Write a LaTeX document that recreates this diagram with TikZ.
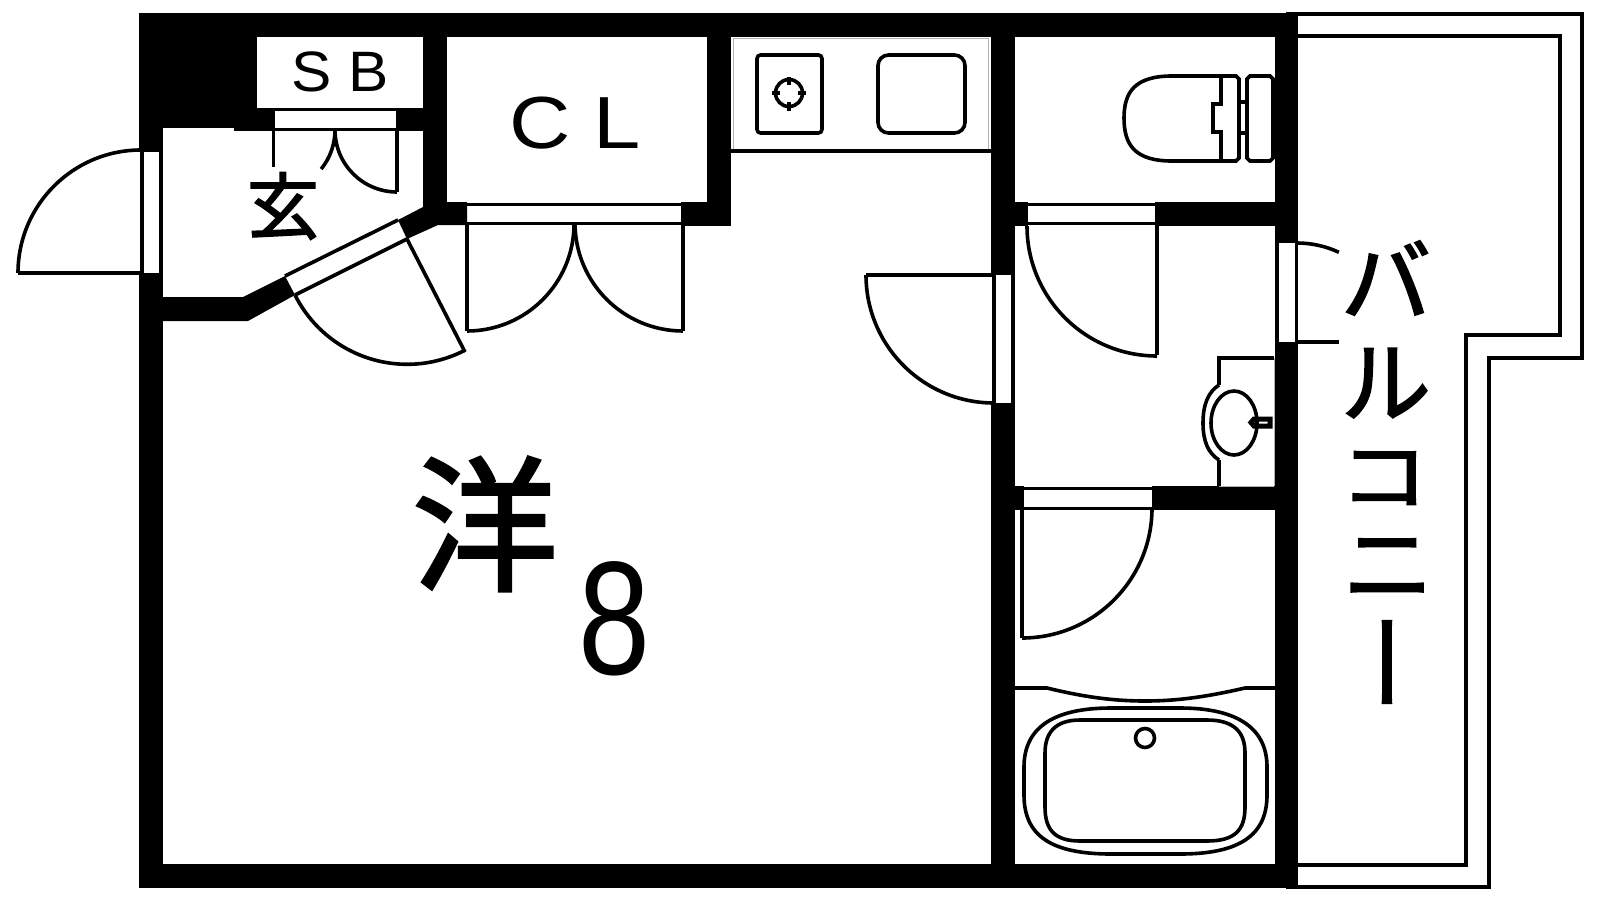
\documentclass[tikz,border=0pt]{standalone}
\usepackage{fontspec}
\setmainfont{Liberation Sans}
\newfontfamily\cjk[FakeBold=2]{Noto Sans CJK JP}
\usepackage{tikz}
\tikzset{
  wall/.style={fill=black},
  plan/.style={line width=0.036cm},
  hair/.style={line width=0.01cm,black!30},
  latin/.style={inner sep=0pt,font=\fontsize{#1}{#1}\selectfont},
  kana/.style={inner sep=0pt,font=\cjk\fontsize{#1}{#1}\selectfont}
}

\begin{document}
\begin{tikzpicture}[x=0.01cm,y=-0.01cm,plan]
%%Location
\useasboundingbox (0,0) rectangle (1600,900);
%%Outer walls
\fill[wall] (139,13) rectangle (1298,37);
\fill[wall] (139,864) rectangle (1298,888);
\fill[wall] (139,13) rectangle (163,152);
\fill[wall] (139,273) rectangle (163,888);
\fill[wall] (1275,13) rectangle (1298,243);
\fill[wall] (1275,342) rectangle (1298,888);
%%Inner walls
\fill[wall] (139,13) rectangle (257,128);
\fill[wall] (234,108) rectangle (275,131);
\fill[wall] (396,108) rectangle (423,131);
\fill[wall] (257,108) rectangle (423,111);
\fill[wall] (423,37) rectangle (447,207);
\fill[wall] (423,207) -- (398,220) -- (407,239) -- (438,225) -- (467,225) -- (467,202) -- (447,202) -- (423,190) -- cycle;
\fill[wall] (163,297) -- (243,297) -- (285,276) -- (295,295) -- (248,321) -- (163,321) -- cycle;
\fill[wall] (707,37) rectangle (731,226);
\fill[wall] (681,202) rectangle (731,226);
\fill[wall] (991,37) rectangle (1015,275);
\fill[wall] (991,403) rectangle (1015,888);
\fill[wall] (991,202) rectangle (1028,226);
\fill[wall] (1155,202) rectangle (1298,226);
\fill[wall] (991,486) rectangle (1024,510);
\fill[wall] (1152,486) rectangle (1298,510);

%%Entrance door
\draw (142,152) -- (142,273);
\draw (161,152) -- (161,273);
\draw (18,273) -- (142,273);
\draw (18,273) arc [start angle=180,end angle=270,radius=123];
%%Diagonal door
\draw (285,276) -- (398,220);
\draw (295,295) -- (407,239);
\draw (407,239) -- (465,352);
\draw (295,295) arc [start angle=153.4,end angle=62.8,radius=125.5];
%%SB doors
\draw (273,129.5) -- (397,129.5);
\draw (273.5,130) -- (273.5,167);
\draw (397,130) -- (397,192);
\draw (335,130) arc [start angle=180,end angle=90,radius=62];
\draw (335,130) arc [start angle=0,end angle=39,radius=62];
%%CL doors
\draw (467,204.5) -- (683,204.5);
\draw (467,223.5) -- (683,223.5);
\draw (467,225) -- (467,331);
\draw (683,225) -- (683,331);
\draw (467,331) arc [start angle=90,end angle=0,radius=107];
\draw (683,331) arc [start angle=90,end angle=180,radius=108];
%%Room door
\draw (994,275) -- (994,403);
\draw (1013,275) -- (1013,403);
\draw (866,275) -- (994,275);
\draw (866,275) arc [start angle=180,end angle=90,radius=128];
%%Toilet door
\draw (1028,204.5) -- (1157,204.5);
\draw (1028,223.5) -- (1157,223.5);
\draw (1157,225) -- (1157,355);
\draw (1027,226) arc [start angle=180,end angle=90,radius=130];
%%Bath door
\draw (1024,488.5) -- (1152,488.5);
\draw (1024,508.5) -- (1152,508.5);
\draw (1022,510) -- (1022,638);
\draw (1022,638) arc [start angle=90,end angle=0,radius=130];
%%Balcony door
\draw (1277,243) -- (1277,342);
\draw (1296.5,243) -- (1296.5,342);
\draw (1297,342) -- (1339,342);
\draw (1297,243) arc [start angle=-90,end angle=-65,radius=99];

%%Kitchen
\draw[hair] (733,38) rectangle (988,150);
\draw (731,151) -- (991,151);
\draw[rounded corners=1pt] (757,55) rectangle (822,133);
\draw (789,93) circle [radius=13.5];
\draw (772,93) -- (780,93);
\draw (798,93) -- (806,93);
\draw (789,77) -- (789,85);
\draw (789,102) -- (789,111);
\draw[rounded corners=3pt] (878,55) rectangle (965,133);

%%Toilet
\draw (1221,76) -- (1172,76) .. controls (1135,76) and (1124,92) .. (1124,118) .. controls (1124,145) and (1135,161) .. (1172,161) -- (1221,161);
\draw (1221,76) -- (1221,104) -- (1213,104) -- (1213,132) -- (1221,132) -- (1221,161);
\draw (1221,76) -- (1236,76) -- (1239,79) -- (1239,158) -- (1236,161) -- (1221,161);
\draw (1250,76) -- (1270,76) -- (1273,79) -- (1273,158) -- (1270,161) -- (1250,161) -- (1247,158) -- (1247,79) -- cycle;
\draw (1239,102) -- (1247,102);
\draw (1239,133) -- (1247,133);

%%Wash basin
\draw (1219,385) -- (1219,358) -- (1274,358);
\draw (1219,460) -- (1219,486);
\draw[hair] (1274,358) -- (1274,486);
\draw[hair] (1219,486) -- (1274,486);
\draw (1219,385) .. controls (1208,392) and (1203,405) .. (1203,423) .. controls (1203,441) and (1208,453) .. (1219,460);
\draw (1234,423) ellipse [x radius=23,y radius=32];
\draw[line width=0.05cm] (1270,419) -- (1254,419) -- (1251,422.5) -- (1254,426) -- (1270,426) -- cycle;

%%Bath
\draw (1015,688) -- (1047,688) .. controls (1080,696) and (1110,701) .. (1145,701) .. controls (1180,701) and (1210,696) .. (1245,688) -- (1275,688);
\draw (1111,708) -- (1180,708) .. controls (1240,708) and (1267,730) .. (1267,767) -- (1267,795) .. controls (1267,835) and (1240,854) .. (1180,854) -- (1111,854) .. controls (1050,854) and (1024,835) .. (1024,795) -- (1024,767) .. controls (1024,730) and (1050,708) .. (1111,708) -- cycle;
\draw (1080,720) -- (1207,720) .. controls (1235,720) and (1245,733) .. (1245,753) -- (1245,807) .. controls (1245,830) and (1235,841) .. (1207,841) -- (1080,841) .. controls (1055,841) and (1045,830) .. (1045,807) -- (1045,753) .. controls (1045,733) and (1055,720) .. (1080,720) -- cycle;
\draw (1145,738) circle [radius=9.5];

%%Balcony
\draw (1286,14) -- (1582,14) -- (1582,358) -- (1489,358) -- (1489,887) -- (1286,887);
\draw (1298,36) -- (1560,36) -- (1560,335) -- (1466,335) -- (1466,865) -- (1298,865);

%%Label
\draw (340,72) node (sbtext) [latin=16.2pt,xscale=1.06] {S\hspace{4.5pt}B};
\draw (575,123.5) node (cltext) [latin=21pt,xscale=1.15] {C\hspace{5.5pt}L};
\draw (283,206) node (genkan) [kana=20.6pt] {玄};
\draw (485,524) node (yo) [kana=41.5pt] {洋};
\draw (614,619) node (eight) [latin=46pt,xscale=0.8] {8};
\draw (1386,278) node (ba) [kana=25.6pt] {バ};
\draw (1386,383) node (ru) [kana=25.6pt] {ル};
\draw (1384,478) node (ko) [kana=25.6pt,yscale=0.85] {コ};
\draw (1388,568) node (ni) [kana=25.6pt] {ニ};
\draw (1402,662) node (bar) [kana=25.6pt,rotate=90,xscale=1.15] {ー};
\end{tikzpicture}
\end{document}
